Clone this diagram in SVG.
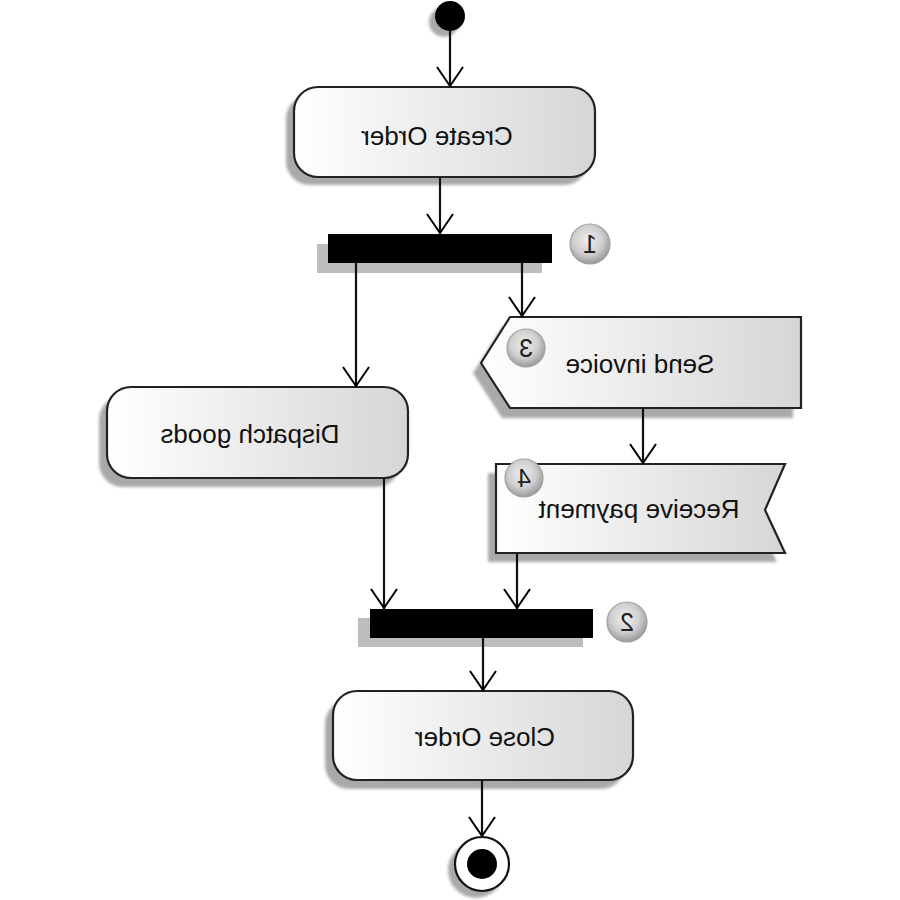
<svg xmlns="http://www.w3.org/2000/svg" width="900" height="900" viewBox="0 0 900 900">
<defs>
<linearGradient id="boxg" x1="0" y1="0" x2="1" y2="0">
<stop offset="0" stop-color="#ffffff"/>
<stop offset="1" stop-color="#d6d6d6"/>
</linearGradient>
<radialGradient id="badgeg" cx="0.45" cy="0.4" r="0.6">
<stop offset="0" stop-color="#eeeeee"/>
<stop offset="0.6" stop-color="#cfcfcf"/>
<stop offset="1" stop-color="#9a9a9a"/>
</radialGradient>
<filter id="blur" x="-10%" y="-10%" width="120%" height="120%">
<feGaussianBlur stdDeviation="1.8"/>
</filter>
<marker id="arr" viewBox="0 0 24 28" refX="22" refY="14" markerWidth="24" markerHeight="28" markerUnits="userSpaceOnUse" orient="auto">
<path d="M2,1 L21,14 L2,27" fill="none" stroke="#000" stroke-width="2"/>
</marker>
</defs>
<style>
.box{fill:url(#boxg);stroke:#222;stroke-width:2.2}
.shadow{fill:#a9a9a9;filter:url(#blur)}
.bar{fill:#000}
.barsh{fill:#bdbdbd}
.badge{fill:url(#badgeg);stroke:#a0a0a0;stroke-width:1.2}
.lbl{font-family:"Liberation Sans",Arial,sans-serif;font-size:26px;fill:#111;text-anchor:middle}
.num{font-family:"Liberation Sans",Arial,sans-serif;font-size:25px;fill:#222;text-anchor:middle}
.conn{fill:none;stroke:#111;stroke-width:2.2;marker-end:url(#arr)}
</style>
<rect width="900" height="900" fill="#fff"/>

<g id="start">
<circle cx="444" cy="22" r="15" class="shadow"/>
<circle cx="450" cy="16" r="15" fill="#000"/>
</g>

<g id="create-order">
<rect x="286" y="95" width="302" height="90" rx="24" class="shadow"/>
<rect x="294" y="87" width="301" height="90" rx="24" class="box"/>
<text class="lbl" transform="translate(437,145) scale(-1,1)">Create Order</text>
</g>

<g id="fork1">
<rect x="317" y="244" width="225" height="29" class="barsh"/>
<rect x="328" y="234" width="224" height="29" class="bar"/>
<circle cx="590" cy="244" r="20" class="badge"/>
<text class="num" transform="translate(590,253) scale(-1,1)">1</text>
</g>

<g id="send-invoice">
<polygon points="473,373 502,327 793,327 793,418 502,418" class="shadow"/>
<polygon points="481,363 510,317 801,317 801,408 510,408" class="box"/>
<circle cx="526" cy="348" r="19" class="badge"/>
<text class="num" transform="translate(526,357) scale(-1,1)">3</text>
<text class="lbl" transform="translate(640,373) scale(-1,1)">Send invoice</text>
</g>

<g id="receive-payment">
<polygon points="488,473 777,473 757,520 777,562 488,562" class="shadow"/>
<polygon points="496,464 785,464 765,510 785,553 496,553" class="box"/>
<circle cx="524" cy="478" r="19" class="badge"/>
<text class="num" transform="translate(524,487) scale(-1,1)">4</text>
<text class="lbl" transform="translate(639,518) scale(-1,1)">Receive payment</text>
</g>

<g id="dispatch-goods">
<rect x="99" y="396" width="301" height="91" rx="24" class="shadow"/>
<rect x="107" y="387" width="301" height="91" rx="24" class="box"/>
<text class="lbl" transform="translate(250,443) scale(-1,1)">Dispatch goods</text>
</g>

<g id="join2">
<rect x="358" y="618" width="225" height="29" class="barsh"/>
<rect x="370" y="609" width="223" height="29" class="bar"/>
<circle cx="627" cy="622" r="20" class="badge"/>
<text class="num" transform="translate(627,631) scale(-1,1)">2</text>
</g>

<g id="close-order">
<rect x="325" y="700" width="300" height="89" rx="24" class="shadow"/>
<rect x="333" y="691" width="300" height="89" rx="24" class="box"/>
<text class="lbl" transform="translate(485,746) scale(-1,1)">Close Order</text>
</g>

<g id="end">
<circle cx="476" cy="870" r="28" class="shadow"/>
<circle cx="482" cy="864" r="27" fill="#fff" stroke="#111" stroke-width="2.2"/>
<circle cx="482" cy="864" r="15" fill="#000"/>
</g>

<g id="connectors">
<path d="M450,31 L450,87" class="conn"/>
<path d="M440,177 L440,234" class="conn"/>
<path d="M356,263 L356,387" class="conn"/>
<path d="M522,263 L522,317" class="conn"/>
<path d="M643,408 L643,464" class="conn"/>
<path d="M384,478 L384,609" class="conn"/>
<path d="M517,553 L517,609" class="conn"/>
<path d="M483,638 L483,691" class="conn"/>
<path d="M482,780 L482,837" class="conn"/>
</g>
</svg>
